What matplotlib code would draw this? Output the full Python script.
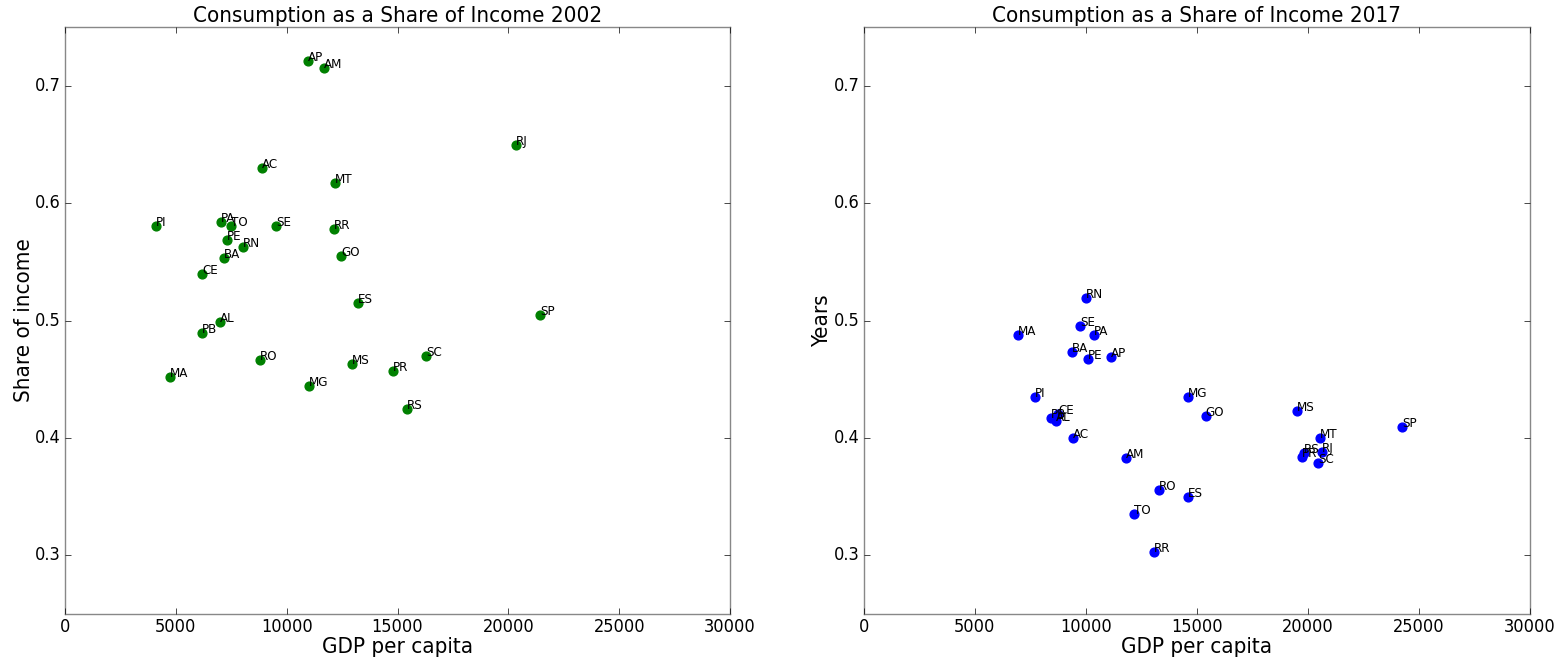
import matplotlib
matplotlib.use("Agg")
import matplotlib.pyplot as plt

plt.style.use("classic")

states_2002 = ["AP", "AM", "RJ", "AC", "MT", "PI", "PA", "TO", "SE", "RR", "PE", "RN", "GO",
               "BA", "CE", "ES", "SP", "AL", "PB", "SC", "RO", "MS", "PR", "MA", "MG", "RS"]
gdp_2002 = [10960, 11680, 20340, 8890, 12180, 4110, 7040, 7490, 9520, 12130, 7310, 8030, 12450,
            7170, 6180, 13220, 21430, 6990, 6180, 16280, 8800, 12950, 14800, 4740, 11010, 15430]
share_2002 = [0.721, 0.715, 0.650, 0.630, 0.617, 0.581, 0.584, 0.581, 0.581, 0.578, 0.569, 0.563, 0.555,
              0.553, 0.540, 0.515, 0.505, 0.499, 0.489, 0.470, 0.466, 0.463, 0.457, 0.452, 0.444, 0.425]

states_2017 = ["RN", "SE", "MA", "PA", "BA", "AP", "PE", "PI", "MG", "MS", "SP", "GO", "PB",
               "CE", "AL", "AC", "MT", "RJ", "RS", "PR", "SC", "AM", "RO", "ES", "TO", "RR"]
gdp_2017 = [10000, 9730, 6940, 10360, 9370, 11130, 10090, 7700, 14600, 19500, 24230, 15400, 8420,
            8740, 8650, 9410, 20540, 20630, 19820, 19730, 20450, 11800, 13290, 14600, 12160, 13060]
share_2017 = [0.519, 0.495, 0.488, 0.488, 0.473, 0.469, 0.467, 0.435, 0.435, 0.423, 0.409, 0.419, 0.417,
              0.420, 0.414, 0.400, 0.400, 0.388, 0.387, 0.384, 0.379, 0.383, 0.356, 0.350, 0.335, 0.303]

plt.rcParams["font.stretch"] = "condensed"

fig = plt.figure(figsize=(15.65, 6.63), dpi=100, facecolor="white")
ax1 = fig.add_axes([0.0415, 0.074, 0.425, 0.885])
ax2 = fig.add_axes([0.552, 0.074, 0.4256, 0.885])

panels = [
    (ax1, gdp_2002, share_2002, states_2002, "g", "Consumption as a Share of Income 2002", "Share of income"),
    (ax2, gdp_2017, share_2017, states_2017, "b", "Consumption as a Share of Income 2017", "Years"),
]

for ax, xs, ys, names, color, title, ylabel in panels:
    ax.scatter(xs, ys, s=40, c=color, edgecolors=color, zorder=3)
    for x, y, name in zip(xs, ys, names):
        ax.text(x, y, name, fontsize=9.5)
    ax.set_xlim(0, 30000)
    ax.set_ylim(0.25, 0.75)
    ax.set_xticks([0, 5000, 10000, 15000, 20000, 25000, 30000])
    ax.set_yticks([0.3, 0.4, 0.5, 0.6, 0.7])
    ax.tick_params(labelsize=13, pad=3)
    ax.set_title(title, fontsize=16, pad=4)
    ax.set_xlabel("GDP per capita", fontsize=16, labelpad=1)
    ax.set_ylabel(ylabel, fontsize=16, labelpad=1)
    for sp in ax.spines.values():
        sp.set_color("#888888")

fig.savefig("out.png", dpi=100, facecolor="white")
